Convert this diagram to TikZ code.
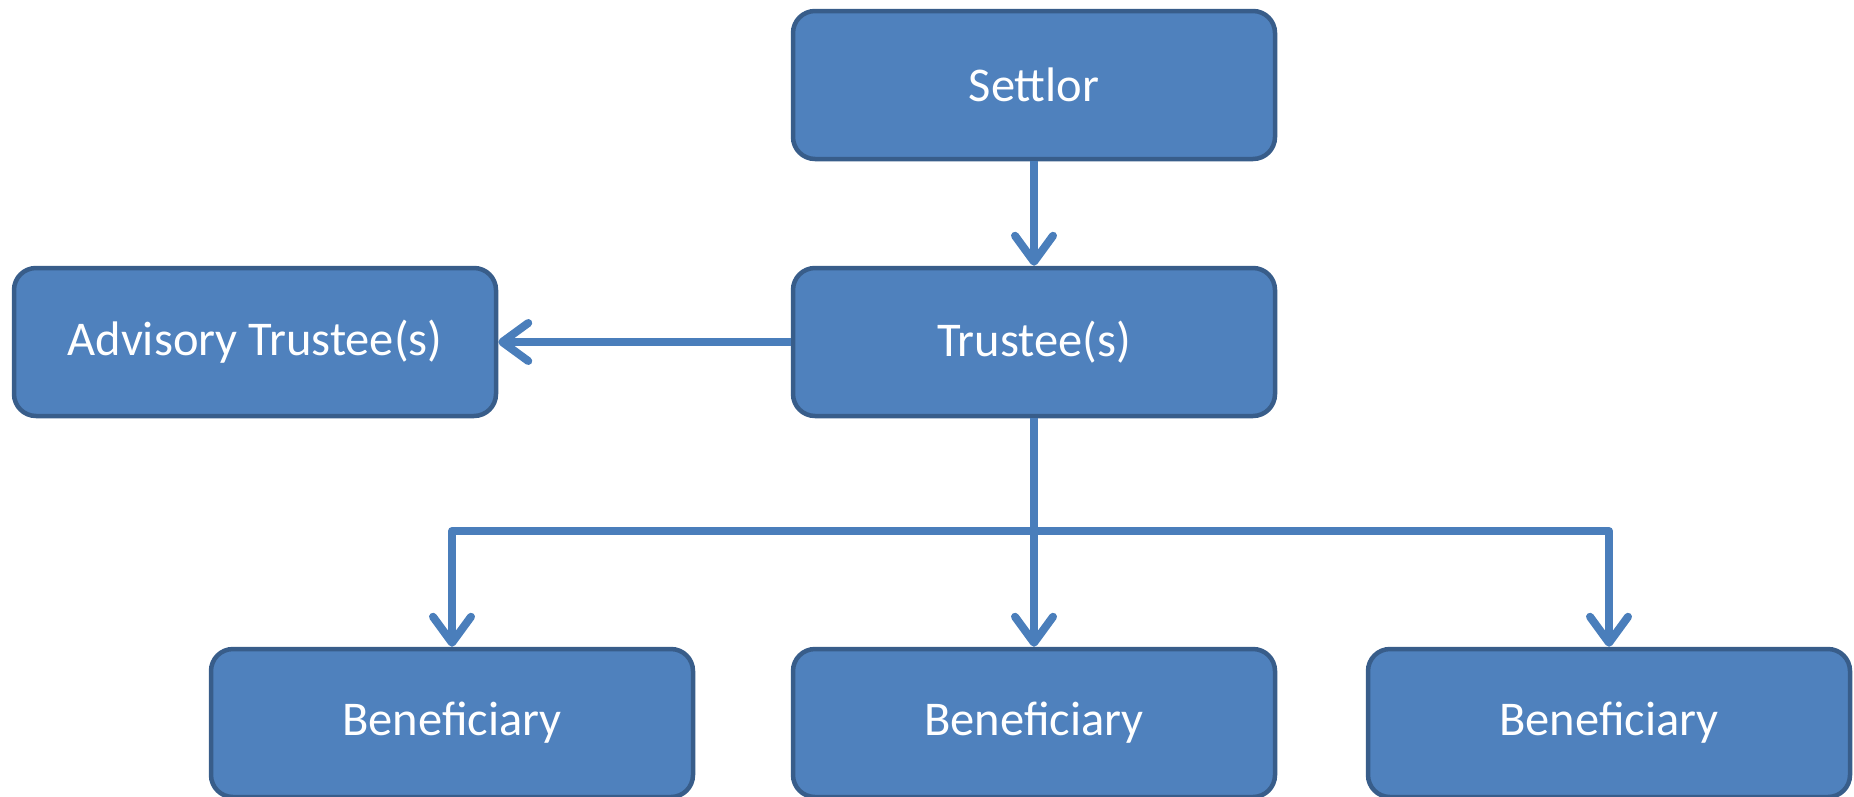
\documentclass[tikz,border=0pt]{standalone}
\usepackage{fontspec}
\setmainfont{Carlito}
\usetikzlibrary{arrows.meta}
\definecolor{boxfill}{HTML}{4F81BD}
\definecolor{boxline}{HTML}{385D8A}
\definecolor{conncol}{HTML}{4A7EBB}
\begin{document}
\begin{tikzpicture}[x=1pt,y=-1pt,
  box/.style={draw=boxline, fill=boxfill, line width=4.5pt, rounded corners=22pt,
    minimum width=482pt, minimum height=148pt, inner sep=0pt,
    text=white, font=\fontsize{48.5}{58}\selectfont},
  conn/.style={draw=conncol, line width=8pt, line join=round,
    -{Straight Barb[length=26pt,width=38pt,line cap=round,line join=round]}}]
\useasboundingbox (0,0) rectangle (1854,796);
\node[box] (S) at (1034,85) {Settlor};
\node[box] (T) at (1034,342) {Trustee(s)};
\node[box] (A) at (255,342) {Advisory Trustee(s)};
\node[box] (B1) at (452,723) {Beneficiary};
\node[box] (B2) at (1034,723) {Beneficiary};
\node[box] (B3) at (1609,723) {Beneficiary};
\coordinate (bus) at (1034,531);
\draw[conn] (S.south) -- (T.north);
\draw[conn] (T.west) -- (A.east);
\draw[conn] (T.south) -- (B2.north);
\draw[conn] (bus) -| (B1.north);
\draw[conn] (bus) -| (B3.north);
\end{tikzpicture}
\end{document}
